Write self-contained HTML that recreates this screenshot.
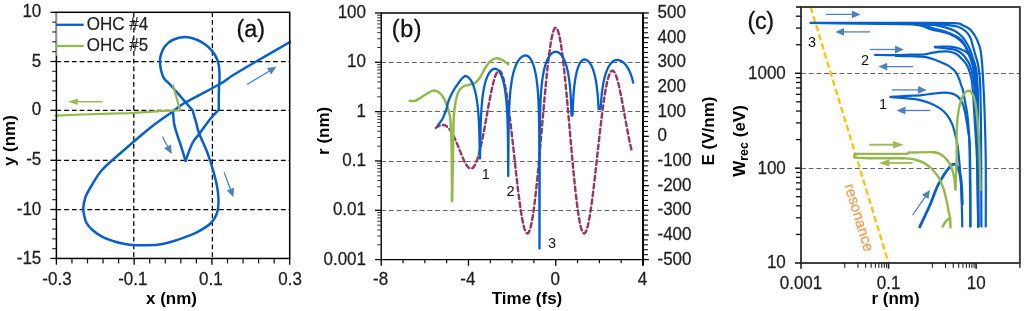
<!DOCTYPE html>
<html><head><meta charset="utf-8"><title>figure</title>
<style>html,body{margin:0;padding:0;background:#fff}svg{display:block}</style></head>
<body>
<svg width="1024" height="311" viewBox="0 0 1024 311">
<rect width="1024" height="311" fill="#fff"/>
<line x1="56.40" y1="61.50" x2="289.70" y2="61.50" stroke="#000" stroke-width="1.25" stroke-dasharray="4.8 2.94"/>
<line x1="56.40" y1="110.30" x2="289.70" y2="110.30" stroke="#000" stroke-width="1.25" stroke-dasharray="4.8 2.94"/>
<line x1="56.40" y1="160.30" x2="289.70" y2="160.30" stroke="#000" stroke-width="1.25" stroke-dasharray="4.8 2.94"/>
<line x1="56.40" y1="209.50" x2="289.70" y2="209.50" stroke="#000" stroke-width="1.25" stroke-dasharray="4.8 2.94"/>
<line x1="133.80" y1="12.30" x2="133.80" y2="258.45" stroke="#000" stroke-width="1.25" stroke-dasharray="4.8 2.94"/>
<line x1="212.40" y1="12.30" x2="212.40" y2="258.45" stroke="#000" stroke-width="1.25" stroke-dasharray="4.8 2.94"/>
<path d="M173.10 113.00 C173.25 114.67 173.52 120.00 174.00 123.00 C174.48 126.00 175.00 127.67 176.00 131.00 C177.00 134.33 178.40 138.03 180.00 143.00 C181.60 147.97 184.67 157.83 185.60 160.80" fill="none" stroke="#0560CE" stroke-width="2.5" stroke-linejoin="round" stroke-linecap="round" />
<path d="M185.60 160.80 C186.75 157.83 190.10 147.63 192.50 143.00 C194.90 138.37 197.08 136.96 200.00 133.00 C202.92 129.04 206.88 123.15 210.00 119.25 C213.12 115.35 217.29 111.21 218.75 109.60 C218.78 106.42 218.78 95.81 218.90 90.50 C219.03 85.19 219.53 82.00 219.50 77.75 C219.47 73.50 219.50 68.79 218.75 65.00 C218.00 61.21 216.88 58.12 215.00 55.00 C213.12 51.88 210.42 48.75 207.50 46.25 C204.58 43.75 201.25 41.54 197.50 40.00 C193.75 38.46 189.17 37.00 185.00 37.00 C180.83 37.00 175.83 38.46 172.50 40.00 C169.17 41.54 166.88 43.96 165.00 46.25 C163.12 48.54 162.08 51.33 161.25 53.75 C160.42 56.17 160.04 58.04 160.00 60.75 C159.96 63.46 160.38 67.12 161.00 70.00 C161.62 72.88 162.25 75.58 163.75 78.00 C165.25 80.42 167.12 81.33 170.00 84.50 C172.88 87.67 177.25 92.71 181.00 97.00 C184.75 101.29 190.58 108.04 192.50 110.25 C193.12 112.38 195.17 119.21 196.25 123.00 C197.33 126.79 197.12 128.00 199.00 133.00 C200.88 138.00 205.17 146.83 207.50 153.00 C209.83 159.17 211.42 164.50 213.00 170.00 C214.58 175.50 216.08 181.00 217.00 186.00 C217.92 191.00 218.50 195.50 218.50 200.00 C218.50 204.50 218.25 209.17 217.00 213.00 C215.75 216.83 214.23 219.85 211.00 223.00 C207.77 226.15 202.35 229.38 197.60 231.90 C192.85 234.42 187.31 236.33 182.50 238.10 C177.69 239.87 172.92 241.38 168.75 242.50 C164.58 243.62 161.46 244.35 157.50 244.80 C153.54 245.25 149.17 245.18 145.00 245.20 C140.83 245.22 136.04 245.13 132.50 244.90 C128.96 244.67 126.88 244.41 123.75 243.80 C120.62 243.19 117.29 242.40 113.75 241.25 C110.21 240.10 106.04 238.78 102.50 236.90 C98.96 235.03 95.21 232.40 92.50 230.00 C89.79 227.60 87.65 225.00 86.25 222.50 C84.85 220.00 84.59 217.42 84.10 215.00 C83.61 212.58 83.07 211.00 83.30 208.00 C83.53 205.00 83.97 201.00 85.50 197.00 C87.03 193.00 89.75 188.50 92.50 184.00 C95.25 179.50 97.83 174.71 102.00 170.00 C106.17 165.29 109.50 162.75 117.50 155.75 C125.50 148.75 140.83 135.33 150.00 128.00 C159.17 120.67 166.67 115.96 172.50 111.75 C178.33 107.54 177.08 107.38 185.00 102.75 C192.92 98.12 212.08 88.54 220.00 84.00 C227.92 79.46 226.62 79.17 232.50 75.50 C238.38 71.83 245.67 67.58 255.25 62.00 C264.83 56.42 284.21 45.33 290.00 42.00" fill="none" stroke="#0560CE" stroke-width="2.5" stroke-linejoin="round" stroke-linecap="round" />
<path d="M55.50 115.60 L82.50 114.50 L110.00 113.60 L130.00 113.20 L163.75 110.90 L180.20 110.30 L173.1 85.7" fill="none" stroke="#93B94D" stroke-width="2.2" stroke-linejoin="round" stroke-linecap="round" />
<line x1="102.50" y1="101.75" x2="76.80" y2="101.75" stroke="#9BBB59" stroke-width="1.5" />
<polygon points="68.00,101.75 77.80,98.45 77.80,105.05" fill="#9BBB59"/>
<line x1="247.00" y1="84.50" x2="269.90" y2="70.76" stroke="#4F81BD" stroke-width="1.3" />
<polygon points="276.50,66.80 271.05,74.62 267.03,67.93" fill="#4F81BD"/>
<line x1="162.50" y1="136.75" x2="168.08" y2="147.21" stroke="#4F81BD" stroke-width="1.3" />
<polygon points="171.70,154.00 164.16,148.16 171.05,144.49" fill="#4F81BD"/>
<line x1="224.10" y1="172.10" x2="230.73" y2="190.08" stroke="#4F81BD" stroke-width="1.3" />
<polygon points="233.40,197.30 226.73,190.49 234.05,187.79" fill="#4F81BD"/>
<rect x="56.40" y="12.30" width="233.30" height="246.15" fill="none" stroke="#000" stroke-width="1.5"/>
<line x1="50.40" y1="258.45" x2="56.40" y2="258.45" stroke="#000" stroke-width="1.3" />
<line x1="52.20" y1="248.66" x2="56.40" y2="248.66" stroke="#222" stroke-width="1.1" />
<line x1="52.20" y1="238.87" x2="56.40" y2="238.87" stroke="#222" stroke-width="1.1" />
<line x1="52.20" y1="229.08" x2="56.40" y2="229.08" stroke="#222" stroke-width="1.1" />
<line x1="52.20" y1="219.29" x2="56.40" y2="219.29" stroke="#222" stroke-width="1.1" />
<line x1="50.40" y1="209.50" x2="56.40" y2="209.50" stroke="#000" stroke-width="1.3" />
<line x1="52.20" y1="199.66" x2="56.40" y2="199.66" stroke="#222" stroke-width="1.1" />
<line x1="52.20" y1="189.82" x2="56.40" y2="189.82" stroke="#222" stroke-width="1.1" />
<line x1="52.20" y1="179.98" x2="56.40" y2="179.98" stroke="#222" stroke-width="1.1" />
<line x1="52.20" y1="170.14" x2="56.40" y2="170.14" stroke="#222" stroke-width="1.1" />
<line x1="50.40" y1="160.30" x2="56.40" y2="160.30" stroke="#000" stroke-width="1.3" />
<line x1="52.20" y1="150.30" x2="56.40" y2="150.30" stroke="#222" stroke-width="1.1" />
<line x1="52.20" y1="140.30" x2="56.40" y2="140.30" stroke="#222" stroke-width="1.1" />
<line x1="52.20" y1="130.30" x2="56.40" y2="130.30" stroke="#222" stroke-width="1.1" />
<line x1="52.20" y1="120.30" x2="56.40" y2="120.30" stroke="#222" stroke-width="1.1" />
<line x1="50.40" y1="110.30" x2="56.40" y2="110.30" stroke="#000" stroke-width="1.3" />
<line x1="52.20" y1="100.54" x2="56.40" y2="100.54" stroke="#222" stroke-width="1.1" />
<line x1="52.20" y1="90.78" x2="56.40" y2="90.78" stroke="#222" stroke-width="1.1" />
<line x1="52.20" y1="81.02" x2="56.40" y2="81.02" stroke="#222" stroke-width="1.1" />
<line x1="52.20" y1="71.26" x2="56.40" y2="71.26" stroke="#222" stroke-width="1.1" />
<line x1="50.40" y1="61.50" x2="56.40" y2="61.50" stroke="#000" stroke-width="1.3" />
<line x1="52.20" y1="51.66" x2="56.40" y2="51.66" stroke="#222" stroke-width="1.1" />
<line x1="52.20" y1="41.82" x2="56.40" y2="41.82" stroke="#222" stroke-width="1.1" />
<line x1="52.20" y1="31.98" x2="56.40" y2="31.98" stroke="#222" stroke-width="1.1" />
<line x1="52.20" y1="22.14" x2="56.40" y2="22.14" stroke="#222" stroke-width="1.1" />
<line x1="50.40" y1="12.30" x2="56.40" y2="12.30" stroke="#000" stroke-width="1.3" />
<line x1="56.40" y1="258.45" x2="56.40" y2="264.65" stroke="#000" stroke-width="1.3" />
<line x1="71.95" y1="258.45" x2="71.95" y2="263.45" stroke="#111" stroke-width="1.2" />
<line x1="87.51" y1="258.45" x2="87.51" y2="263.45" stroke="#111" stroke-width="1.2" />
<line x1="103.06" y1="258.45" x2="103.06" y2="263.45" stroke="#111" stroke-width="1.2" />
<line x1="118.61" y1="258.45" x2="118.61" y2="263.45" stroke="#111" stroke-width="1.2" />
<line x1="134.17" y1="258.45" x2="134.17" y2="264.65" stroke="#000" stroke-width="1.3" />
<line x1="149.72" y1="258.45" x2="149.72" y2="263.45" stroke="#111" stroke-width="1.2" />
<line x1="165.27" y1="258.45" x2="165.27" y2="263.45" stroke="#111" stroke-width="1.2" />
<line x1="180.83" y1="258.45" x2="180.83" y2="263.45" stroke="#111" stroke-width="1.2" />
<line x1="196.38" y1="258.45" x2="196.38" y2="263.45" stroke="#111" stroke-width="1.2" />
<line x1="211.93" y1="258.45" x2="211.93" y2="264.65" stroke="#000" stroke-width="1.3" />
<line x1="227.49" y1="258.45" x2="227.49" y2="263.45" stroke="#111" stroke-width="1.2" />
<line x1="243.04" y1="258.45" x2="243.04" y2="263.45" stroke="#111" stroke-width="1.2" />
<line x1="258.59" y1="258.45" x2="258.59" y2="263.45" stroke="#111" stroke-width="1.2" />
<line x1="274.15" y1="258.45" x2="274.15" y2="263.45" stroke="#111" stroke-width="1.2" />
<line x1="289.70" y1="258.45" x2="289.70" y2="264.65" stroke="#000" stroke-width="1.3" />
<text transform="translate(41.30,17.45) scale(1,1.105)" font-size="17" text-anchor="end" fill="#1f1f1f" stroke="#1f1f1f" stroke-width="0.25" font-family="Liberation Sans, Arial, sans-serif" >10</text>
<text transform="translate(41.30,66.65) scale(1,1.105)" font-size="17" text-anchor="end" fill="#1f1f1f" stroke="#1f1f1f" stroke-width="0.25" font-family="Liberation Sans, Arial, sans-serif" >5</text>
<text transform="translate(41.30,115.45) scale(1,1.105)" font-size="17" text-anchor="end" fill="#1f1f1f" stroke="#1f1f1f" stroke-width="0.25" font-family="Liberation Sans, Arial, sans-serif" >0</text>
<text transform="translate(41.30,165.45) scale(1,1.105)" font-size="17" text-anchor="end" fill="#1f1f1f" stroke="#1f1f1f" stroke-width="0.25" font-family="Liberation Sans, Arial, sans-serif" >-5</text>
<text transform="translate(41.30,214.65) scale(1,1.105)" font-size="17" text-anchor="end" fill="#1f1f1f" stroke="#1f1f1f" stroke-width="0.25" font-family="Liberation Sans, Arial, sans-serif" >-10</text>
<text transform="translate(41.30,263.60) scale(1,1.105)" font-size="17" text-anchor="end" fill="#1f1f1f" stroke="#1f1f1f" stroke-width="0.25" font-family="Liberation Sans, Arial, sans-serif" >-15</text>
<text transform="translate(57.00,284.75) scale(1,1.105)" font-size="17" text-anchor="middle" fill="#1f1f1f" stroke="#1f1f1f" stroke-width="0.25" font-family="Liberation Sans, Arial, sans-serif" >-0.3</text>
<text transform="translate(132.80,284.75) scale(1,1.105)" font-size="17" text-anchor="middle" fill="#1f1f1f" stroke="#1f1f1f" stroke-width="0.25" font-family="Liberation Sans, Arial, sans-serif" >-0.1</text>
<text transform="translate(210.80,284.75) scale(1,1.105)" font-size="17" text-anchor="middle" fill="#1f1f1f" stroke="#1f1f1f" stroke-width="0.25" font-family="Liberation Sans, Arial, sans-serif" >0.1</text>
<text transform="translate(290.10,284.75) scale(1,1.105)" font-size="17" text-anchor="middle" fill="#1f1f1f" stroke="#1f1f1f" stroke-width="0.25" font-family="Liberation Sans, Arial, sans-serif" >0.3</text>
<text x="171.50" y="303.80" font-size="17" text-anchor="middle" font-weight="bold" fill="#000" font-family="Liberation Sans, Arial, sans-serif" >x (nm)</text>
<text transform="translate(15.4,140.6) rotate(-90)" font-size="17" text-anchor="middle" font-weight="bold" fill="#000" font-family="Liberation Sans, Arial, sans-serif">y (nm)</text>
<line x1="56.80" y1="13.20" x2="56.80" y2="55.80" stroke="#fff" stroke-width="0.8" />
<line x1="56.00" y1="24.80" x2="83.70" y2="24.80" stroke="#0560CE" stroke-width="2.3" />
<line x1="56.00" y1="46.00" x2="83.70" y2="46.00" stroke="#93B94D" stroke-width="2.3" />
<text transform="translate(86.8,30.3) scale(1,1.12)" font-size="17" fill="#1f1f1f" stroke="#1f1f1f" stroke-width="0.2" font-family="Liberation Sans, Arial, sans-serif">OHC #4</text>
<text transform="translate(86.8,50.9) scale(1,1.12)" font-size="17" fill="#1f1f1f" stroke="#1f1f1f" stroke-width="0.2" font-family="Liberation Sans, Arial, sans-serif">OHC #5</text>
<text x="236.60" y="37.20" font-size="23.3" text-anchor="start" font-weight="normal" fill="#111" font-family="Liberation Sans, Arial, sans-serif" letter-spacing="0" stroke="#111" stroke-width="0.3">(a)</text>
<line x1="381.20" y1="62.40" x2="643.00" y2="62.40" stroke="#636363" stroke-width="1.05" stroke-dasharray="4.8 2.9"/>
<line x1="381.20" y1="111.45" x2="643.00" y2="111.45" stroke="#636363" stroke-width="1.05" stroke-dasharray="4.8 2.9"/>
<line x1="381.20" y1="161.40" x2="643.00" y2="161.40" stroke="#636363" stroke-width="1.05" stroke-dasharray="4.8 2.9"/>
<line x1="381.20" y1="210.40" x2="643.00" y2="210.40" stroke="#636363" stroke-width="1.05" stroke-dasharray="4.8 2.9"/>
<path d="M435.74 127.89 L436.83 127.12 L437.92 126.43 L439.01 125.85 L440.10 125.39 L441.20 125.07 L442.29 124.92 L443.38 124.95 L444.47 125.18 L445.56 125.62 L446.65 126.28 L447.74 127.17 L448.83 128.29 L449.92 129.66 L451.01 131.25 L452.10 133.07 L453.19 135.10 L454.29 137.32 L455.38 139.71 L456.47 142.25 L457.56 144.89 L458.65 147.60 L459.74 150.34 L460.83 153.07 L461.92 155.74 L463.01 158.29 L464.10 160.68 L465.19 162.86 L466.28 164.76 L467.38 166.34 L468.47 167.55 L469.56 168.35 L470.65 168.69 L471.74 168.54 L472.83 167.87 L473.92 166.66 L475.01 164.88 L476.10 162.55 L477.19 159.65 L478.28 156.21 L479.37 152.26 L480.47 147.81 L481.56 142.93 L482.65 137.67 L483.74 132.09 L484.83 126.26 L485.92 120.27 L487.01 114.20 L488.10 108.16 L489.19 102.24 L490.28 96.54 L491.37 91.16 L492.46 86.21 L493.56 81.78 L494.65 77.97 L495.74 74.87 L496.83 72.56 L497.92 71.11 L499.01 70.58 L500.10 71.01 L501.19 72.44 L502.28 74.88 L503.37 78.33 L504.46 82.77 L505.55 88.17 L506.65 94.49 L507.74 101.64 L508.83 109.56 L509.92 118.13 L511.01 127.25 L512.10 136.78 L513.19 146.61 L514.28 156.57 L515.37 166.52 L516.46 176.30 L517.55 185.76 L518.64 194.75 L519.74 203.11 L520.83 210.70 L521.92 217.39 L523.01 223.05 L524.10 227.57 L525.19 230.86 L526.28 232.85 L527.37 233.49 L528.46 232.73 L529.55 230.56 L530.64 227.00 L531.73 222.08 L532.83 215.84 L533.92 208.38 L535.01 199.78 L536.10 190.16 L537.19 179.66 L538.28 168.42 L539.37 156.60 L540.46 144.38 L541.55 131.93 L542.64 119.45 L543.73 107.11 L544.82 95.11 L545.92 83.62 L547.01 72.81 L548.10 62.86 L549.19 53.92 L550.28 46.11 L551.37 39.56 L552.46 34.36 L553.55 30.59 L554.64 28.31 L555.73 27.55 L556.82 28.31 L557.91 30.59 L559.01 34.36 L560.10 39.56 L561.19 46.11 L562.28 53.92 L563.37 62.86 L564.46 72.81 L565.55 83.62 L566.64 95.11 L567.73 107.11 L568.82 119.45 L569.91 131.93 L571.00 144.38 L572.10 156.60 L573.19 168.42 L574.28 179.66 L575.37 190.16 L576.46 199.78 L577.55 208.38 L578.64 215.84 L579.73 222.08 L580.82 227.00 L581.91 230.56 L583.00 232.73 L584.09 233.49 L585.19 232.85 L586.28 230.86 L587.37 227.57 L588.46 223.05 L589.55 217.39 L590.64 210.70 L591.73 203.11 L592.82 194.75 L593.91 185.76 L595.00 176.30 L596.09 166.52 L597.18 156.57 L598.28 146.61 L599.37 136.78 L600.46 127.25 L601.55 118.13 L602.64 109.56 L603.73 101.64 L604.82 94.49 L605.91 88.17 L607.00 82.77 L608.09 78.33 L609.18 74.88 L610.27 72.44 L611.37 71.01 L612.46 70.58 L613.55 71.11 L614.64 72.56 L615.73 74.87 L616.82 77.97 L617.91 81.78 L619.00 86.21 L620.09 91.16 L621.18 96.54 L622.27 102.24 L623.36 108.16 L624.46 114.20 L625.55 120.27 L626.64 126.26 L627.73 132.09 L628.82 137.67 L629.91 142.93 L631.00 147.81 L632.09 152.26" fill="none" stroke="#993366" stroke-width="2.4" stroke-linejoin="round" stroke-linecap="round" stroke-dasharray="4.6 3.3" stroke-linecap="butt"/>
<path d="M409.75 101.00 C410.79 100.92 413.29 101.62 416.00 100.50 C418.71 99.38 423.00 95.92 426.00 94.25 C429.00 92.58 431.50 90.50 434.00 90.50 C436.50 90.50 439.00 92.17 441.00 94.25 C443.00 96.33 444.54 99.46 446.00 103.00 C447.46 106.54 448.92 111.33 449.75 115.50 C450.58 119.67 450.67 121.29 451.00 128.00 C451.33 134.71 451.58 143.58 451.75 155.75 C451.92 167.92 451.96 193.46 452.00 201.00" fill="none" stroke="#93B94D" stroke-width="2.5" stroke-linejoin="round" stroke-linecap="round" />
<path d="M452.00 201.00 C452.17 193.46 452.71 169.62 453.00 155.75 C453.29 141.88 453.33 126.62 453.75 117.75 C454.17 108.88 454.67 106.92 455.50 102.50 C456.33 98.08 457.38 93.96 458.75 91.25 C460.12 88.54 461.88 87.38 463.75 86.25 C465.62 85.12 468.12 85.04 470.00 84.50 C471.88 83.96 473.33 84.17 475.00 83.00 C476.67 81.83 478.12 80.29 480.00 77.50 C481.88 74.71 484.38 69.08 486.25 66.25 C488.12 63.42 489.58 61.83 491.25 60.50 C492.92 59.17 494.38 58.33 496.25 58.25 C498.12 58.17 500.54 59.00 502.50 60.00 C504.46 61.00 507.08 63.54 508.00 64.25" fill="none" stroke="#93B94D" stroke-width="2.5" stroke-linejoin="round" stroke-linecap="round" />
<path d="M437.80 125.30 L438.03 124.99 L438.32 124.62 L438.67 124.19 L439.05 123.71 L439.47 123.18 L439.92 122.61 L440.37 122.01 L440.83 121.38 L441.28 120.74 L441.72 120.08 L442.13 119.41 L442.50 118.75 L442.85 118.07 L443.20 117.35 L443.53 116.60 L443.87 115.82 L444.20 115.03 L444.52 114.22 L444.83 113.41 L445.13 112.59 L445.43 111.77 L445.71 110.96 L445.99 110.17 L446.25 109.40 L446.49 108.65 L446.71 107.90 L446.90 107.17 L447.08 106.44 L447.24 105.72 L447.41 104.99 L447.58 104.26 L447.76 103.53 L447.95 102.79 L448.17 102.04 L448.42 101.28 L448.70 100.50 L449.02 99.70 L449.36 98.87 L449.73 98.02 L450.12 97.16 L450.52 96.28 L450.94 95.41 L451.37 94.55 L451.80 93.69 L452.23 92.85 L452.66 92.03 L453.09 91.25 L453.50 90.50 L453.91 89.78 L454.34 89.07 L454.77 88.38 L455.21 87.70 L455.65 87.05 L456.08 86.41 L456.51 85.79 L456.94 85.19 L457.35 84.61 L457.75 84.05 L458.14 83.51 L458.50 83.00 L458.85 82.51 L459.18 82.05 L459.49 81.61 L459.80 81.20 L460.09 80.80 L460.38 80.42 L460.65 80.07 L460.93 79.73 L461.20 79.40 L461.46 79.09 L461.73 78.79 L462.00 78.50 L462.28 78.22 L462.56 77.96 L462.86 77.72 L463.15 77.49 L463.44 77.27 L463.72 77.07 L463.99 76.88 L464.24 76.71 L464.47 76.56 L464.68 76.42 L464.86 76.30 L465.00 76.20 L465.00 76.00 L465.12 76.00 L465.25 76.01 L465.38 76.02 L465.50 76.03 L465.62 76.05 L465.75 76.07 L465.88 76.09 L466.00 76.12 L466.12 76.15 L466.25 76.18 L466.38 76.22 L466.50 76.27 L466.62 76.31 L466.75 76.36 L466.88 76.42 L467.00 76.47 L467.12 76.53 L467.25 76.60 L467.38 76.67 L467.50 76.74 L467.62 76.82 L467.75 76.90 L467.88 76.99 L468.00 77.07 L468.12 77.17 L468.25 77.27 L468.38 77.37 L468.50 77.47 L468.62 77.58 L468.75 77.70 L468.88 77.81 L469.00 77.94 L469.12 78.06 L469.25 78.20 L469.38 78.33 L469.50 78.47 L469.62 78.62 L469.75 78.77 L469.88 78.92 L470.00 79.08 L470.12 79.25 L470.25 79.41 L470.38 79.59 L470.50 79.77 L470.62 79.95 L470.75 80.14 L470.88 80.34 L471.00 80.54 L471.12 80.75 L471.25 80.96 L471.38 81.18 L471.50 81.40 L471.62 81.63 L471.75 81.87 L471.88 82.11 L472.00 82.36 L472.12 82.61 L472.25 82.88 L472.38 83.15 L472.50 83.42 L472.62 83.71 L472.75 84.00 L472.88 84.30 L473.00 84.61 L473.12 84.92 L473.25 85.25 L473.38 85.58 L473.50 85.92 L473.62 86.27 L473.75 86.63 L473.88 87.00 L474.00 87.38 L474.12 87.77 L474.25 88.18 L474.38 88.59 L474.50 89.02 L474.62 89.45 L474.75 89.90 L474.88 90.37 L475.00 90.85 L475.12 91.34 L475.25 91.85 L475.38 92.37 L475.50 92.91 L475.62 93.47 L475.75 94.05 L475.88 94.65 L476.00 95.27 L476.12 95.91 L476.25 96.57 L476.38 97.26 L476.50 97.98 L476.62 98.73 L476.75 99.50 L476.88 100.31 L477.00 101.15 L477.12 102.04 L477.25 102.96 L477.38 103.93 L477.50 104.95 L477.62 106.03 L477.75 107.16 L477.88 108.36 L478.00 109.64 L478.12 111.01 L478.25 112.47 L478.38 114.04 L478.50 115.74 L478.62 117.59 L478.75 119.61 L478.88 121.86 L479.00 124.37 L479.12 127.22 L479.25 130.52 L479.38 134.41 L479.50 139.19 L479.62 145.35 L479.75 154.03 L479.88 158.50 L480.00 158.50 L480.00 158.50 L480.24 148.07 L480.47 133.23 L480.71 124.55 L480.94 118.40 L481.18 113.64 L481.41 109.76 L481.65 106.49 L481.88 103.66 L482.12 101.18 L482.35 98.96 L482.59 96.96 L482.82 95.15 L483.06 93.49 L483.30 91.96 L483.53 90.55 L483.77 89.23 L484.00 88.01 L484.24 86.86 L484.47 85.78 L484.71 84.77 L484.94 83.82 L485.18 82.92 L485.41 82.06 L485.65 81.26 L485.89 80.49 L486.12 79.76 L486.36 79.07 L486.59 78.42 L486.83 77.79 L487.06 77.20 L487.30 76.64 L487.53 76.10 L487.77 75.59 L488.00 75.10 L488.24 74.64 L488.48 74.20 L488.71 73.78 L488.95 73.38 L489.18 73.00 L489.42 72.64 L489.65 72.30 L489.89 71.98 L490.12 71.67 L490.36 71.39 L490.59 71.12 L490.83 70.86 L491.06 70.62 L491.30 70.40 L491.54 70.19 L491.77 70.00 L492.01 69.82 L492.24 69.66 L492.48 69.51 L492.71 69.37 L492.95 69.25 L493.18 69.14 L493.42 69.05 L493.65 68.96 L493.89 68.90 L494.12 68.84 L494.36 68.80 L494.60 68.77 L494.83 68.75 L495.07 68.75 L495.30 68.76 L495.54 68.79 L495.77 68.84 L496.01 68.90 L496.24 68.98 L496.48 69.08 L496.71 69.20 L496.95 69.33 L497.19 69.48 L497.42 69.64 L497.66 69.83 L497.89 70.03 L498.13 70.26 L498.36 70.50 L498.60 70.76 L498.83 71.04 L499.07 71.34 L499.30 71.67 L499.54 72.01 L499.77 72.38 L500.01 72.77 L500.25 73.19 L500.48 73.63 L500.72 74.10 L500.95 74.59 L501.19 75.12 L501.42 75.67 L501.66 76.26 L501.89 76.88 L502.13 77.53 L502.36 78.23 L502.60 78.96 L502.84 79.74 L503.07 80.56 L503.31 81.43 L503.54 82.36 L503.78 83.35 L504.01 84.40 L504.25 85.53 L504.48 86.74 L504.72 88.03 L504.95 89.43 L505.19 90.94 L505.43 92.58 L505.66 94.38 L505.90 96.36 L506.13 98.57 L506.37 101.04 L506.60 103.86 L506.84 107.13 L507.07 111.00 L507.31 115.76 L507.54 121.90 L507.78 130.57 L508.01 145.41 L508.25 176.00 L508.25 176.00 L508.51 135.96 L508.77 121.11 L509.03 112.44 L509.29 106.29 L509.55 101.53 L509.81 97.65 L510.07 94.37 L510.33 91.54 L510.59 89.05 L510.85 86.83 L511.11 84.83 L511.38 83.01 L511.64 81.34 L511.90 79.81 L512.16 78.39 L512.42 77.07 L512.68 75.83 L512.94 74.68 L513.20 73.59 L513.46 72.57 L513.72 71.61 L513.98 70.70 L514.24 69.83 L514.50 69.02 L514.76 68.24 L515.02 67.50 L515.28 66.80 L515.54 66.13 L515.80 65.49 L516.06 64.89 L516.32 64.31 L516.58 63.76 L516.84 63.23 L517.10 62.72 L517.36 62.24 L517.62 61.79 L517.89 61.35 L518.15 60.93 L518.41 60.54 L518.67 60.16 L518.93 59.80 L519.19 59.45 L519.45 59.13 L519.71 58.82 L519.97 58.52 L520.23 58.25 L520.49 57.98 L520.75 57.73 L521.01 57.50 L521.27 57.28 L521.53 57.07 L521.79 56.88 L522.05 56.70 L522.31 56.54 L522.57 56.38 L522.83 56.24 L523.09 56.11 L523.35 56.00 L523.61 55.90 L523.88 55.80 L524.14 55.73 L524.40 55.66 L524.66 55.60 L524.92 55.56 L525.18 55.53 L525.44 55.51 L525.70 55.50 L525.96 55.51 L526.22 55.53 L526.48 55.57 L526.74 55.64 L527.00 55.72 L527.26 55.82 L527.52 55.94 L527.78 56.08 L528.04 56.24 L528.30 56.42 L528.56 56.63 L528.82 56.85 L529.08 57.09 L529.34 57.36 L529.60 57.65 L529.86 57.96 L530.12 58.29 L530.39 58.66 L530.65 59.04 L530.91 59.45 L531.17 59.89 L531.43 60.36 L531.69 60.86 L531.95 61.39 L532.21 61.95 L532.47 62.55 L532.73 63.18 L532.99 63.85 L533.25 64.57 L533.51 65.33 L533.77 66.13 L534.03 66.99 L534.29 67.90 L534.55 68.87 L534.81 69.91 L535.07 71.02 L535.33 72.22 L535.59 73.50 L535.85 74.88 L536.11 76.38 L536.38 78.02 L536.64 79.81 L536.90 81.78 L537.16 83.98 L537.42 86.45 L537.68 89.26 L537.94 92.52 L538.20 96.39 L538.46 101.14 L538.72 107.28 L538.98 115.95 L539.24 130.79 L539.50 248.50 L539.50 248.50 L539.77 129.78 L540.04 114.94 L540.31 106.27 L540.58 100.12 L540.85 95.36 L541.12 91.49 L541.40 88.22 L541.67 85.39 L541.94 82.91 L542.21 80.70 L542.48 78.71 L542.75 76.90 L543.02 75.25 L543.29 73.73 L543.56 72.32 L543.83 71.02 L544.10 69.80 L544.38 68.66 L544.65 67.60 L544.92 66.60 L545.19 65.65 L545.46 64.77 L545.73 63.93 L546.00 63.13 L546.27 62.38 L546.54 61.67 L546.81 61.00 L547.08 60.36 L547.35 59.75 L547.62 59.17 L547.90 58.63 L548.17 58.11 L548.44 57.62 L548.71 57.15 L548.98 56.71 L549.25 56.29 L549.52 55.89 L549.79 55.52 L550.06 55.16 L550.33 54.83 L550.60 54.52 L550.88 54.22 L551.15 53.95 L551.42 53.69 L551.69 53.45 L551.96 53.22 L552.23 53.02 L552.50 52.82 L552.77 52.65 L553.04 52.49 L553.31 52.35 L553.58 52.22 L553.85 52.11 L554.12 52.02 L554.40 51.93 L554.67 51.87 L554.94 51.82 L555.21 51.78 L555.48 51.76 L555.75 51.75 L556.02 51.76 L556.29 51.78 L556.56 51.82 L556.83 51.87 L557.10 51.93 L557.38 52.02 L557.65 52.11 L557.92 52.22 L558.19 52.35 L558.46 52.49 L558.73 52.65 L559.00 52.82 L559.27 53.02 L559.54 53.22 L559.81 53.45 L560.08 53.69 L560.35 53.95 L560.62 54.22 L560.90 54.52 L561.17 54.83 L561.44 55.16 L561.71 55.52 L561.98 55.89 L562.25 56.29 L562.52 56.71 L562.79 57.15 L563.06 57.62 L563.33 58.11 L563.60 58.63 L563.88 59.17 L564.15 59.75 L564.42 60.36 L564.69 61.00 L564.96 61.67 L565.23 62.38 L565.50 63.13 L565.77 63.93 L566.04 64.77 L566.31 65.65 L566.58 66.60 L566.85 67.60 L567.12 68.66 L567.40 69.80 L567.67 71.02 L567.94 72.32 L568.21 73.73 L568.48 75.25 L568.75 76.90 L569.02 78.71 L569.29 80.70 L569.56 82.91 L569.83 85.39 L570.10 88.22 L570.38 91.49 L570.65 95.36 L570.92 100.12 L571.19 106.27 L571.46 114.94 L571.73 115.50 L572.00 115.50 L572.00 115.50 L572.23 115.50 L572.46 115.50 L572.69 111.98 L572.92 105.84 L573.15 101.09 L573.38 97.21 L573.60 93.95 L573.83 91.13 L574.06 88.66 L574.29 86.46 L574.52 84.48 L574.75 82.69 L574.98 81.05 L575.21 79.54 L575.44 78.15 L575.67 76.86 L575.90 75.66 L576.12 74.54 L576.35 73.50 L576.58 72.52 L576.81 71.59 L577.04 70.73 L577.27 69.91 L577.50 69.15 L577.73 68.42 L577.96 67.74 L578.19 67.09 L578.42 66.48 L578.65 65.91 L578.88 65.37 L579.10 64.86 L579.33 64.37 L579.56 63.92 L579.79 63.49 L580.02 63.09 L580.25 62.71 L580.48 62.36 L580.71 62.03 L580.94 61.72 L581.17 61.44 L581.40 61.17 L581.62 60.93 L581.85 60.71 L582.08 60.50 L582.31 60.32 L582.54 60.16 L582.77 60.01 L583.00 59.88 L583.23 59.77 L583.46 59.68 L583.69 59.61 L583.92 59.56 L584.15 59.52 L584.38 59.50 L584.60 59.50 L584.83 59.51 L585.06 59.54 L585.29 59.57 L585.52 59.62 L585.75 59.68 L585.98 59.76 L586.21 59.84 L586.44 59.94 L586.67 60.06 L586.90 60.18 L587.12 60.32 L587.35 60.47 L587.58 60.64 L587.81 60.82 L588.04 61.01 L588.27 61.22 L588.50 61.44 L588.73 61.67 L588.96 61.92 L589.19 62.19 L589.42 62.47 L589.65 62.77 L589.88 63.09 L590.10 63.42 L590.33 63.77 L590.56 64.14 L590.79 64.53 L591.02 64.94 L591.25 65.37 L591.48 65.82 L591.71 66.29 L591.94 66.78 L592.17 67.30 L592.40 67.85 L592.62 68.42 L592.85 69.02 L593.08 69.65 L593.31 70.32 L593.54 71.01 L593.77 71.74 L594.00 72.52 L594.23 73.33 L594.46 74.19 L594.69 75.09 L594.92 76.05 L595.15 77.07 L595.38 78.15 L595.60 79.30 L595.83 80.53 L596.06 81.85 L596.29 83.27 L596.52 84.80 L596.75 86.46 L596.98 88.28 L597.21 90.28 L597.44 92.49 L597.67 94.98 L597.90 97.81 L598.12 101.09 L598.35 104.97 L598.58 109.00 L598.81 109.00 L599.04 109.00 L599.27 109.00 L599.50 109.00 L599.50 109.00 L599.78 109.00 L600.06 109.00 L600.34 109.00 L600.62 109.00 L600.91 104.39 L601.19 100.51 L601.47 97.24 L601.75 94.41 L602.03 91.93 L602.31 89.71 L602.59 87.72 L602.88 85.91 L603.16 84.25 L603.44 82.73 L603.72 81.31 L604.00 80.00 L604.28 78.78 L604.56 77.64 L604.84 76.56 L605.12 75.56 L605.41 74.61 L605.69 73.71 L605.97 72.86 L606.25 72.06 L606.53 71.30 L606.81 70.58 L607.09 69.89 L607.38 69.25 L607.66 68.63 L607.94 68.04 L608.22 67.48 L608.50 66.95 L608.78 66.45 L609.06 65.97 L609.34 65.51 L609.62 65.08 L609.91 64.67 L610.19 64.28 L610.47 63.91 L610.75 63.56 L611.03 63.23 L611.31 62.92 L611.59 62.63 L611.88 62.35 L612.16 62.09 L612.44 61.85 L612.72 61.62 L613.00 61.41 L613.28 61.22 L613.56 61.04 L613.84 60.87 L614.12 60.72 L614.41 60.59 L614.69 60.46 L614.97 60.36 L615.25 60.27 L615.53 60.19 L615.81 60.12 L616.09 60.07 L616.38 60.03 L616.66 60.01 L616.94 60.00 L617.22 60.00 L617.50 60.01 L617.78 60.04 L618.06 60.07 L618.34 60.11 L618.62 60.16 L618.91 60.22 L619.19 60.29 L619.47 60.37 L619.75 60.46 L620.03 60.56 L620.31 60.66 L620.59 60.78 L620.88 60.91 L621.16 61.05 L621.44 61.20 L621.72 61.36 L622.00 61.53 L622.28 61.72 L622.56 61.91 L622.84 62.11 L623.12 62.33 L623.41 62.56 L623.69 62.80 L623.97 63.05 L624.25 63.32 L624.53 63.60 L624.81 63.89 L625.09 64.19 L625.38 64.51 L625.66 64.84 L625.94 65.19 L626.22 65.56 L626.50 65.94 L626.78 66.33 L627.06 66.74 L627.34 67.18 L627.62 67.63 L627.91 68.09 L628.19 68.58 L628.47 69.09 L628.75 69.63 L629.03 70.18 L629.31 70.76 L629.59 71.37 L629.88 72.00 L630.16 72.66 L630.44 73.36 L630.72 74.08 L631.00 74.85 L631.28 75.65 L631.56 76.49 L631.84 77.37 L632.12 78.31 L632.41 79.29 L632.69 80.33 L632.97 81.44 L633.25 82.62" fill="none" stroke="#0560CE" stroke-width="2.3" stroke-linejoin="round" stroke-linecap="round" />
<path d="M381.20 13.00 H643.00 V259.60 H381.20 Z" fill="none" stroke="#000" stroke-width="1.4"/>
<line x1="643.00" y1="13.00" x2="643.00" y2="265.60" stroke="#000" stroke-width="1.7" />
<line x1="375.00" y1="259.60" x2="381.20" y2="259.60" stroke="#000" stroke-width="1.3" />
<line x1="377.20" y1="244.75" x2="381.20" y2="244.75" stroke="#222" stroke-width="0.9" />
<line x1="377.20" y1="236.07" x2="381.20" y2="236.07" stroke="#222" stroke-width="0.9" />
<line x1="377.20" y1="229.91" x2="381.20" y2="229.91" stroke="#222" stroke-width="0.9" />
<line x1="377.20" y1="225.13" x2="381.20" y2="225.13" stroke="#222" stroke-width="0.9" />
<line x1="377.20" y1="221.22" x2="381.20" y2="221.22" stroke="#222" stroke-width="0.9" />
<line x1="377.20" y1="217.92" x2="381.20" y2="217.92" stroke="#222" stroke-width="0.9" />
<line x1="377.20" y1="215.06" x2="381.20" y2="215.06" stroke="#222" stroke-width="0.9" />
<line x1="377.20" y1="212.54" x2="381.20" y2="212.54" stroke="#222" stroke-width="0.9" />
<line x1="375.00" y1="210.28" x2="381.20" y2="210.28" stroke="#000" stroke-width="1.3" />
<line x1="377.20" y1="195.43" x2="381.20" y2="195.43" stroke="#222" stroke-width="0.9" />
<line x1="377.20" y1="186.75" x2="381.20" y2="186.75" stroke="#222" stroke-width="0.9" />
<line x1="377.20" y1="180.59" x2="381.20" y2="180.59" stroke="#222" stroke-width="0.9" />
<line x1="377.20" y1="175.81" x2="381.20" y2="175.81" stroke="#222" stroke-width="0.9" />
<line x1="377.20" y1="171.90" x2="381.20" y2="171.90" stroke="#222" stroke-width="0.9" />
<line x1="377.20" y1="168.60" x2="381.20" y2="168.60" stroke="#222" stroke-width="0.9" />
<line x1="377.20" y1="165.74" x2="381.20" y2="165.74" stroke="#222" stroke-width="0.9" />
<line x1="377.20" y1="163.22" x2="381.20" y2="163.22" stroke="#222" stroke-width="0.9" />
<line x1="375.00" y1="160.96" x2="381.20" y2="160.96" stroke="#000" stroke-width="1.3" />
<line x1="377.20" y1="146.11" x2="381.20" y2="146.11" stroke="#222" stroke-width="0.9" />
<line x1="377.20" y1="137.43" x2="381.20" y2="137.43" stroke="#222" stroke-width="0.9" />
<line x1="377.20" y1="131.27" x2="381.20" y2="131.27" stroke="#222" stroke-width="0.9" />
<line x1="377.20" y1="126.49" x2="381.20" y2="126.49" stroke="#222" stroke-width="0.9" />
<line x1="377.20" y1="122.58" x2="381.20" y2="122.58" stroke="#222" stroke-width="0.9" />
<line x1="377.20" y1="119.28" x2="381.20" y2="119.28" stroke="#222" stroke-width="0.9" />
<line x1="377.20" y1="116.42" x2="381.20" y2="116.42" stroke="#222" stroke-width="0.9" />
<line x1="377.20" y1="113.90" x2="381.20" y2="113.90" stroke="#222" stroke-width="0.9" />
<line x1="375.00" y1="111.64" x2="381.20" y2="111.64" stroke="#000" stroke-width="1.3" />
<line x1="377.20" y1="96.79" x2="381.20" y2="96.79" stroke="#222" stroke-width="0.9" />
<line x1="377.20" y1="88.11" x2="381.20" y2="88.11" stroke="#222" stroke-width="0.9" />
<line x1="377.20" y1="81.95" x2="381.20" y2="81.95" stroke="#222" stroke-width="0.9" />
<line x1="377.20" y1="77.17" x2="381.20" y2="77.17" stroke="#222" stroke-width="0.9" />
<line x1="377.20" y1="73.26" x2="381.20" y2="73.26" stroke="#222" stroke-width="0.9" />
<line x1="377.20" y1="69.96" x2="381.20" y2="69.96" stroke="#222" stroke-width="0.9" />
<line x1="377.20" y1="67.10" x2="381.20" y2="67.10" stroke="#222" stroke-width="0.9" />
<line x1="377.20" y1="64.58" x2="381.20" y2="64.58" stroke="#222" stroke-width="0.9" />
<line x1="375.00" y1="62.32" x2="381.20" y2="62.32" stroke="#000" stroke-width="1.3" />
<line x1="377.20" y1="47.47" x2="381.20" y2="47.47" stroke="#222" stroke-width="0.9" />
<line x1="377.20" y1="38.79" x2="381.20" y2="38.79" stroke="#222" stroke-width="0.9" />
<line x1="377.20" y1="32.63" x2="381.20" y2="32.63" stroke="#222" stroke-width="0.9" />
<line x1="377.20" y1="27.85" x2="381.20" y2="27.85" stroke="#222" stroke-width="0.9" />
<line x1="377.20" y1="23.94" x2="381.20" y2="23.94" stroke="#222" stroke-width="0.9" />
<line x1="377.20" y1="20.64" x2="381.20" y2="20.64" stroke="#222" stroke-width="0.9" />
<line x1="377.20" y1="17.78" x2="381.20" y2="17.78" stroke="#222" stroke-width="0.9" />
<line x1="377.20" y1="15.26" x2="381.20" y2="15.26" stroke="#222" stroke-width="0.9" />
<line x1="375.00" y1="13.00" x2="381.20" y2="13.00" stroke="#000" stroke-width="1.3" />
<line x1="643.00" y1="259.60" x2="648.80" y2="259.60" stroke="#000" stroke-width="1.3" />
<line x1="643.00" y1="254.67" x2="648.00" y2="254.67" stroke="#111" stroke-width="1.1" />
<line x1="643.00" y1="249.74" x2="648.00" y2="249.74" stroke="#111" stroke-width="1.1" />
<line x1="643.00" y1="244.80" x2="648.00" y2="244.80" stroke="#111" stroke-width="1.1" />
<line x1="643.00" y1="239.87" x2="648.00" y2="239.87" stroke="#111" stroke-width="1.1" />
<line x1="643.00" y1="234.94" x2="648.80" y2="234.94" stroke="#000" stroke-width="1.3" />
<line x1="643.00" y1="230.01" x2="648.00" y2="230.01" stroke="#111" stroke-width="1.1" />
<line x1="643.00" y1="225.08" x2="648.00" y2="225.08" stroke="#111" stroke-width="1.1" />
<line x1="643.00" y1="220.14" x2="648.00" y2="220.14" stroke="#111" stroke-width="1.1" />
<line x1="643.00" y1="215.21" x2="648.00" y2="215.21" stroke="#111" stroke-width="1.1" />
<line x1="643.00" y1="210.28" x2="648.80" y2="210.28" stroke="#000" stroke-width="1.3" />
<line x1="643.00" y1="205.35" x2="648.00" y2="205.35" stroke="#111" stroke-width="1.1" />
<line x1="643.00" y1="200.42" x2="648.00" y2="200.42" stroke="#111" stroke-width="1.1" />
<line x1="643.00" y1="195.48" x2="648.00" y2="195.48" stroke="#111" stroke-width="1.1" />
<line x1="643.00" y1="190.55" x2="648.00" y2="190.55" stroke="#111" stroke-width="1.1" />
<line x1="643.00" y1="185.62" x2="648.80" y2="185.62" stroke="#000" stroke-width="1.3" />
<line x1="643.00" y1="180.69" x2="648.00" y2="180.69" stroke="#111" stroke-width="1.1" />
<line x1="643.00" y1="175.76" x2="648.00" y2="175.76" stroke="#111" stroke-width="1.1" />
<line x1="643.00" y1="170.82" x2="648.00" y2="170.82" stroke="#111" stroke-width="1.1" />
<line x1="643.00" y1="165.89" x2="648.00" y2="165.89" stroke="#111" stroke-width="1.1" />
<line x1="643.00" y1="160.96" x2="648.80" y2="160.96" stroke="#000" stroke-width="1.3" />
<line x1="643.00" y1="156.03" x2="648.00" y2="156.03" stroke="#111" stroke-width="1.1" />
<line x1="643.00" y1="151.10" x2="648.00" y2="151.10" stroke="#111" stroke-width="1.1" />
<line x1="643.00" y1="146.16" x2="648.00" y2="146.16" stroke="#111" stroke-width="1.1" />
<line x1="643.00" y1="141.23" x2="648.00" y2="141.23" stroke="#111" stroke-width="1.1" />
<line x1="643.00" y1="136.30" x2="648.80" y2="136.30" stroke="#000" stroke-width="1.3" />
<line x1="643.00" y1="131.37" x2="648.00" y2="131.37" stroke="#111" stroke-width="1.1" />
<line x1="643.00" y1="126.44" x2="648.00" y2="126.44" stroke="#111" stroke-width="1.1" />
<line x1="643.00" y1="121.50" x2="648.00" y2="121.50" stroke="#111" stroke-width="1.1" />
<line x1="643.00" y1="116.57" x2="648.00" y2="116.57" stroke="#111" stroke-width="1.1" />
<line x1="643.00" y1="111.64" x2="648.80" y2="111.64" stroke="#000" stroke-width="1.3" />
<line x1="643.00" y1="106.71" x2="648.00" y2="106.71" stroke="#111" stroke-width="1.1" />
<line x1="643.00" y1="101.78" x2="648.00" y2="101.78" stroke="#111" stroke-width="1.1" />
<line x1="643.00" y1="96.84" x2="648.00" y2="96.84" stroke="#111" stroke-width="1.1" />
<line x1="643.00" y1="91.91" x2="648.00" y2="91.91" stroke="#111" stroke-width="1.1" />
<line x1="643.00" y1="86.98" x2="648.80" y2="86.98" stroke="#000" stroke-width="1.3" />
<line x1="643.00" y1="82.05" x2="648.00" y2="82.05" stroke="#111" stroke-width="1.1" />
<line x1="643.00" y1="77.12" x2="648.00" y2="77.12" stroke="#111" stroke-width="1.1" />
<line x1="643.00" y1="72.18" x2="648.00" y2="72.18" stroke="#111" stroke-width="1.1" />
<line x1="643.00" y1="67.25" x2="648.00" y2="67.25" stroke="#111" stroke-width="1.1" />
<line x1="643.00" y1="62.32" x2="648.80" y2="62.32" stroke="#000" stroke-width="1.3" />
<line x1="643.00" y1="57.39" x2="648.00" y2="57.39" stroke="#111" stroke-width="1.1" />
<line x1="643.00" y1="52.46" x2="648.00" y2="52.46" stroke="#111" stroke-width="1.1" />
<line x1="643.00" y1="47.52" x2="648.00" y2="47.52" stroke="#111" stroke-width="1.1" />
<line x1="643.00" y1="42.59" x2="648.00" y2="42.59" stroke="#111" stroke-width="1.1" />
<line x1="643.00" y1="37.66" x2="648.80" y2="37.66" stroke="#000" stroke-width="1.3" />
<line x1="643.00" y1="32.73" x2="648.00" y2="32.73" stroke="#111" stroke-width="1.1" />
<line x1="643.00" y1="27.80" x2="648.00" y2="27.80" stroke="#111" stroke-width="1.1" />
<line x1="643.00" y1="22.86" x2="648.00" y2="22.86" stroke="#111" stroke-width="1.1" />
<line x1="643.00" y1="17.93" x2="648.00" y2="17.93" stroke="#111" stroke-width="1.1" />
<line x1="643.00" y1="13.00" x2="648.80" y2="13.00" stroke="#000" stroke-width="1.3" />
<line x1="381.20" y1="259.60" x2="381.20" y2="265.70" stroke="#000" stroke-width="1.3" />
<line x1="403.02" y1="259.60" x2="403.02" y2="263.20" stroke="#111" stroke-width="1.2" />
<line x1="424.83" y1="259.60" x2="424.83" y2="263.20" stroke="#111" stroke-width="1.2" />
<line x1="446.65" y1="259.60" x2="446.65" y2="263.20" stroke="#111" stroke-width="1.2" />
<line x1="468.47" y1="259.60" x2="468.47" y2="265.70" stroke="#000" stroke-width="1.3" />
<line x1="490.28" y1="259.60" x2="490.28" y2="263.20" stroke="#111" stroke-width="1.2" />
<line x1="512.10" y1="259.60" x2="512.10" y2="263.20" stroke="#111" stroke-width="1.2" />
<line x1="533.92" y1="259.60" x2="533.92" y2="263.20" stroke="#111" stroke-width="1.2" />
<line x1="555.73" y1="259.60" x2="555.73" y2="265.70" stroke="#000" stroke-width="1.3" />
<line x1="577.55" y1="259.60" x2="577.55" y2="263.20" stroke="#111" stroke-width="1.2" />
<line x1="599.37" y1="259.60" x2="599.37" y2="263.20" stroke="#111" stroke-width="1.2" />
<line x1="621.18" y1="259.60" x2="621.18" y2="263.20" stroke="#111" stroke-width="1.2" />
<line x1="643.00" y1="259.60" x2="643.00" y2="265.70" stroke="#000" stroke-width="1.3" />
<text transform="translate(366.00,264.75) scale(1,1.105)" font-size="17" text-anchor="end" fill="#1f1f1f" stroke="#1f1f1f" stroke-width="0.25" font-family="Liberation Sans, Arial, sans-serif" >0.001</text>
<text transform="translate(366.00,215.43) scale(1,1.105)" font-size="17" text-anchor="end" fill="#1f1f1f" stroke="#1f1f1f" stroke-width="0.25" font-family="Liberation Sans, Arial, sans-serif" >0.01</text>
<text transform="translate(366.00,166.11) scale(1,1.105)" font-size="17" text-anchor="end" fill="#1f1f1f" stroke="#1f1f1f" stroke-width="0.25" font-family="Liberation Sans, Arial, sans-serif" >0.1</text>
<text transform="translate(366.00,116.79) scale(1,1.105)" font-size="17" text-anchor="end" fill="#1f1f1f" stroke="#1f1f1f" stroke-width="0.25" font-family="Liberation Sans, Arial, sans-serif" >1</text>
<text transform="translate(366.00,67.47) scale(1,1.105)" font-size="17" text-anchor="end" fill="#1f1f1f" stroke="#1f1f1f" stroke-width="0.25" font-family="Liberation Sans, Arial, sans-serif" >10</text>
<text transform="translate(366.00,18.15) scale(1,1.105)" font-size="17" text-anchor="end" fill="#1f1f1f" stroke="#1f1f1f" stroke-width="0.25" font-family="Liberation Sans, Arial, sans-serif" >100</text>
<text transform="translate(657.50,18.15) scale(1,1.105)" font-size="17" text-anchor="start" fill="#1f1f1f" stroke="#1f1f1f" stroke-width="0.25" font-family="Liberation Sans, Arial, sans-serif" >500</text>
<text transform="translate(657.50,42.81) scale(1,1.105)" font-size="17" text-anchor="start" fill="#1f1f1f" stroke="#1f1f1f" stroke-width="0.25" font-family="Liberation Sans, Arial, sans-serif" >400</text>
<text transform="translate(657.50,67.47) scale(1,1.105)" font-size="17" text-anchor="start" fill="#1f1f1f" stroke="#1f1f1f" stroke-width="0.25" font-family="Liberation Sans, Arial, sans-serif" >300</text>
<text transform="translate(657.50,92.13) scale(1,1.105)" font-size="17" text-anchor="start" fill="#1f1f1f" stroke="#1f1f1f" stroke-width="0.25" font-family="Liberation Sans, Arial, sans-serif" >200</text>
<text transform="translate(657.50,116.79) scale(1,1.105)" font-size="17" text-anchor="start" fill="#1f1f1f" stroke="#1f1f1f" stroke-width="0.25" font-family="Liberation Sans, Arial, sans-serif" >100</text>
<text transform="translate(657.50,141.45) scale(1,1.105)" font-size="17" text-anchor="start" fill="#1f1f1f" stroke="#1f1f1f" stroke-width="0.25" font-family="Liberation Sans, Arial, sans-serif" >0</text>
<text transform="translate(657.50,166.11) scale(1,1.105)" font-size="17" text-anchor="start" fill="#1f1f1f" stroke="#1f1f1f" stroke-width="0.25" font-family="Liberation Sans, Arial, sans-serif" >-100</text>
<text transform="translate(657.50,190.77) scale(1,1.105)" font-size="17" text-anchor="start" fill="#1f1f1f" stroke="#1f1f1f" stroke-width="0.25" font-family="Liberation Sans, Arial, sans-serif" >-200</text>
<text transform="translate(657.50,215.43) scale(1,1.105)" font-size="17" text-anchor="start" fill="#1f1f1f" stroke="#1f1f1f" stroke-width="0.25" font-family="Liberation Sans, Arial, sans-serif" >-300</text>
<text transform="translate(657.50,240.09) scale(1,1.105)" font-size="17" text-anchor="start" fill="#1f1f1f" stroke="#1f1f1f" stroke-width="0.25" font-family="Liberation Sans, Arial, sans-serif" >-400</text>
<text transform="translate(657.50,264.75) scale(1,1.105)" font-size="17" text-anchor="start" fill="#1f1f1f" stroke="#1f1f1f" stroke-width="0.25" font-family="Liberation Sans, Arial, sans-serif" >-500</text>
<text transform="translate(380.60,285.15) scale(1,1.105)" font-size="17" text-anchor="middle" fill="#1f1f1f" stroke="#1f1f1f" stroke-width="0.25" font-family="Liberation Sans, Arial, sans-serif" >-8</text>
<text transform="translate(467.87,285.15) scale(1,1.105)" font-size="17" text-anchor="middle" fill="#1f1f1f" stroke="#1f1f1f" stroke-width="0.25" font-family="Liberation Sans, Arial, sans-serif" >-4</text>
<text transform="translate(555.13,285.15) scale(1,1.105)" font-size="17" text-anchor="middle" fill="#1f1f1f" stroke="#1f1f1f" stroke-width="0.25" font-family="Liberation Sans, Arial, sans-serif" >0</text>
<text transform="translate(642.40,285.15) scale(1,1.105)" font-size="17" text-anchor="middle" fill="#1f1f1f" stroke="#1f1f1f" stroke-width="0.25" font-family="Liberation Sans, Arial, sans-serif" >4</text>
<text x="527.00" y="303.80" font-size="17" text-anchor="middle" font-weight="bold" fill="#000" font-family="Liberation Sans, Arial, sans-serif" >Time (fs)</text>
<text transform="translate(329.0,130.8) rotate(-90)" font-size="17" text-anchor="middle" font-weight="bold" fill="#000" font-family="Liberation Sans, Arial, sans-serif">r (nm)</text>
<text transform="translate(714.3,131) rotate(-90)" font-size="17" text-anchor="middle" font-weight="bold" fill="#000" font-family="Liberation Sans, Arial, sans-serif">E (V/nm)</text>
<text x="391.80" y="37.00" font-size="23.3" text-anchor="start" font-weight="normal" fill="#111" font-family="Liberation Sans, Arial, sans-serif" letter-spacing="0.6" stroke="#111" stroke-width="0.3">(b)</text>
<text x="481.80" y="178.50" font-size="14.5" text-anchor="start" font-weight="normal" fill="#111" font-family="Liberation Sans, Arial, sans-serif" >1</text>
<text x="506.60" y="195.60" font-size="14.5" text-anchor="start" font-weight="normal" fill="#111" font-family="Liberation Sans, Arial, sans-serif" >2</text>
<text x="548.00" y="247.50" font-size="14.5" text-anchor="start" font-weight="normal" fill="#111" font-family="Liberation Sans, Arial, sans-serif" >3</text>
<line x1="801.00" y1="168.40" x2="1019.90" y2="168.40" stroke="#636363" stroke-width="1.05" stroke-dasharray="4.8 2.9"/>
<line x1="801.00" y1="73.55" x2="1019.90" y2="73.55" stroke="#636363" stroke-width="1.05" stroke-dasharray="4.8 2.9"/>
<line x1="810.60" y1="7.00" x2="888.60" y2="263.00" stroke="#FFC000" stroke-width="2.25" stroke-dasharray="6.3 3.2"/>
<path d="M810.60 22.80 C818.83 22.80 841.77 22.78 860.00 22.80 C878.23 22.82 904.21 22.83 920.00 22.90 C935.79 22.97 947.71 22.85 954.75 23.20 C961.79 23.55 959.75 24.00 962.25 25.00 C964.75 26.00 967.67 27.45 969.75 29.20 C971.83 30.95 973.38 33.37 974.75 35.50 C976.12 37.63 977.04 39.58 978.00 42.00 C978.96 44.42 979.83 46.58 980.50 50.00 C981.17 53.42 981.58 57.88 982.00 62.50 C982.42 67.12 982.58 69.83 983.00 77.75 C983.42 85.67 984.04 96.29 984.50 110.00 C984.96 123.71 985.54 140.58 985.75 160.00 C985.96 179.42 985.75 215.42 985.75 226.50" fill="none" stroke="#0560CE" stroke-width="2.2" stroke-linejoin="round" stroke-linecap="round" />
<path d="M810.60 23.00 C818.83 23.10 845.10 23.42 860.00 23.60 C874.90 23.78 889.17 23.93 900.00 24.10 C910.83 24.27 920.83 24.52 925.00 24.60" fill="none" stroke="#0560CE" stroke-width="2.2" stroke-linejoin="round" stroke-linecap="round" />
<path d="M925.00 24.20 C928.00 24.27 937.50 24.17 943.00 24.60 C948.50 25.03 954.17 25.65 958.00 26.80 C961.83 27.95 963.92 29.63 966.00 31.50 C968.08 33.37 969.28 35.28 970.50 38.00 C971.72 40.72 972.45 44.87 973.30 47.80 C974.15 50.73 974.83 52.90 975.60 55.60 C976.37 58.30 977.25 60.77 977.90 64.00 C978.55 67.23 979.10 71.00 979.50 75.00 C979.90 79.00 980.05 78.83 980.30 88.00 C980.55 97.17 980.82 106.92 981.00 130.00 C981.18 153.08 981.33 210.42 981.40 226.50" fill="none" stroke="#0560CE" stroke-width="2.2" stroke-linejoin="round" stroke-linecap="round" />
<path d="M920.00 24.40 C922.50 24.53 930.67 24.67 935.00 25.20 C939.33 25.73 942.67 26.63 946.00 27.60 C949.33 28.57 952.33 29.52 955.00 31.00 C957.67 32.48 960.17 34.67 962.00 36.50 C963.83 38.33 964.71 39.92 966.00 42.00 C967.29 44.08 968.67 46.50 969.75 49.00 C970.83 51.50 971.62 54.17 972.50 57.00 C973.38 59.83 974.28 62.50 975.00 66.00 C975.72 69.50 976.37 72.33 976.80 78.00 C977.23 83.67 977.37 86.33 977.60 100.00 C977.83 113.67 978.10 138.92 978.20 160.00 C978.30 181.08 978.20 215.42 978.20 226.50" fill="none" stroke="#0560CE" stroke-width="2.2" stroke-linejoin="round" stroke-linecap="round" />
<path d="M918.00 24.60 C919.33 24.83 923.33 25.33 926.00 26.00 C928.67 26.67 930.92 27.73 934.00 28.60 C937.08 29.47 941.18 30.10 944.50 31.20 C947.82 32.30 951.07 33.73 953.90 35.20 C956.73 36.67 959.32 37.70 961.50 40.00 C963.68 42.30 965.43 46.13 967.00 49.00 C968.57 51.87 969.73 54.70 970.90 57.20 C972.07 59.70 973.15 61.03 974.00 64.00 C974.85 66.97 975.50 70.67 976.00 75.00 C976.50 79.33 976.70 80.83 977.00 90.00 C977.30 99.17 977.60 107.25 977.80 130.00 C978.00 152.75 978.13 210.42 978.20 226.50" fill="none" stroke="#0560CE" stroke-width="2.2" stroke-linejoin="round" stroke-linecap="round" />
<path d="M915.00 24.60 C916.21 24.82 919.79 25.18 922.25 25.90 C924.71 26.62 927.25 28.08 929.75 28.90 C932.25 29.72 934.54 30.15 937.25 30.80 C939.96 31.45 943.50 32.05 946.00 32.80 C948.50 33.55 950.17 34.27 952.25 35.30 C954.33 36.33 956.62 37.59 958.50 39.00 C960.38 40.41 962.15 42.10 963.50 43.75 C964.85 45.40 965.60 46.86 966.60 48.90 C967.60 50.94 968.57 53.48 969.50 56.00 C970.43 58.52 971.37 60.83 972.20 64.00 C973.03 67.17 973.87 70.67 974.50 75.00 C975.13 79.33 975.55 80.83 976.00 90.00 C976.45 99.17 976.83 107.25 977.20 130.00 C977.57 152.75 978.03 210.42 978.20 226.50" fill="none" stroke="#0560CE" stroke-width="2.2" stroke-linejoin="round" stroke-linecap="round" />
<path d="M875.10 54.90 C878.54 54.95 889.81 55.25 895.75 55.20 C901.69 55.15 906.04 54.72 910.75 54.60 C915.46 54.48 920.49 54.78 924.00 54.50 C927.51 54.22 929.20 53.37 931.80 52.90 C934.40 52.43 937.12 51.95 939.60 51.70 C942.08 51.45 944.48 51.27 946.70 51.40 C948.92 51.53 951.08 51.93 952.90 52.50 C954.72 53.07 956.03 53.63 957.60 54.80 C959.17 55.97 961.13 58.30 962.30 59.50 C963.47 60.70 963.69 60.80 964.60 62.00 C965.51 63.20 966.83 64.75 967.75 66.70 C968.67 68.65 969.44 71.48 970.10 73.70 C970.76 75.92 971.32 77.95 971.70 80.00 C972.08 82.05 972.10 82.67 972.40 86.00 C972.70 89.33 973.07 93.50 973.50 100.00 C973.93 106.50 974.42 115.00 975.00 125.00 C975.58 135.00 976.47 143.08 977.00 160.00 C977.53 176.92 978.00 215.42 978.20 226.50" fill="none" stroke="#0560CE" stroke-width="2.2" stroke-linejoin="round" stroke-linecap="round" />
<path d="M934.90 46.80 C936.08 46.77 939.52 46.62 942.00 46.60 C944.48 46.58 947.33 46.50 949.80 46.70 C952.27 46.90 954.60 47.22 956.80 47.80 C959.00 48.38 961.17 49.28 963.00 50.20 C964.83 51.12 966.18 51.75 967.75 53.30 C969.32 54.85 971.23 57.72 972.40 59.50 C973.57 61.28 974.12 61.92 974.80 64.00 C975.48 66.08 976.05 68.33 976.50 72.00 C976.95 75.67 977.25 79.67 977.50 86.00 C977.75 92.33 977.88 86.58 978.00 110.00 C978.12 133.42 978.17 207.08 978.20 226.50" fill="none" stroke="#0560CE" stroke-width="2.2" stroke-linejoin="round" stroke-linecap="round" />
<path d="M934.90 47.40 C936.08 47.47 939.92 47.60 942.00 47.80 C944.08 48.00 945.45 48.33 947.40 48.60 C949.35 48.87 951.73 48.88 953.70 49.40 C955.67 49.92 957.52 50.67 959.20 51.70 C960.88 52.73 962.38 54.03 963.80 55.60 C965.22 57.17 966.83 59.70 967.75 61.10 C968.67 62.50 968.59 62.18 969.30 64.00 C970.01 65.82 971.13 68.33 972.00 72.00 C972.87 75.67 973.83 79.67 974.50 86.00 C975.17 92.33 975.50 97.67 976.00 110.00 C976.50 122.33 977.13 140.58 977.50 160.00 C977.87 179.42 978.08 215.42 978.20 226.50" fill="none" stroke="#0560CE" stroke-width="2.2" stroke-linejoin="round" stroke-linecap="round" />
<path d="M895.75 55.90 C898.25 55.96 906.04 56.10 910.75 56.25 C915.46 56.40 920.49 56.38 924.00 56.80 C927.51 57.22 929.20 57.93 931.80 58.75 C934.40 59.57 937.00 60.64 939.60 61.70 C942.20 62.76 945.05 63.75 947.40 65.10 C949.75 66.45 952.13 68.37 953.70 69.80 C955.27 71.23 955.88 72.13 956.80 73.70 C957.72 75.27 958.42 77.15 959.20 79.20 C959.98 81.25 960.88 84.20 961.50 86.00 C962.12 87.80 962.36 87.67 962.90 90.00 C963.44 92.33 964.02 96.00 964.75 100.00 C965.48 104.00 966.61 109.33 967.25 114.00 C967.89 118.67 968.21 122.00 968.60 128.00 C968.99 134.00 969.30 133.58 969.60 150.00 C969.90 166.42 970.27 213.75 970.40 226.50" fill="none" stroke="#0560CE" stroke-width="2.2" stroke-linejoin="round" stroke-linecap="round" />
<path d="M890.50 96.80 C893.25 96.65 901.75 96.18 907.00 95.90 C912.25 95.62 917.62 95.48 922.00 95.10 C926.38 94.72 929.50 94.00 933.25 93.60 C937.00 93.20 941.38 92.70 944.50 92.70 C947.62 92.70 949.82 92.98 952.00 93.60 C954.18 94.22 956.03 95.15 957.60 96.40 C959.17 97.65 960.30 99.07 961.40 101.10 C962.50 103.13 963.42 105.78 964.20 108.60 C964.98 111.42 965.48 114.56 966.10 118.00 C966.72 121.44 967.28 124.58 967.90 129.25 C968.52 133.92 969.38 135.88 969.80 146.00 C970.22 156.12 970.30 176.58 970.40 190.00 C970.50 203.42 970.40 220.42 970.40 226.50" fill="none" stroke="#0560CE" stroke-width="2.2" stroke-linejoin="round" stroke-linecap="round" />
<path d="M890.50 97.00 C893.25 97.22 902.38 97.87 907.00 98.30 C911.62 98.73 914.50 98.82 918.25 99.60 C922.00 100.38 926.06 101.65 929.50 103.00 C932.94 104.35 936.08 105.83 938.90 107.70 C941.72 109.58 944.22 111.60 946.40 114.25 C948.58 116.90 950.60 120.47 952.00 123.60 C953.40 126.72 953.87 129.27 954.80 133.00 C955.73 136.73 956.73 139.83 957.60 146.00 C958.47 152.17 959.35 161.83 960.00 170.00 C960.65 178.17 961.12 185.58 961.50 195.00 C961.88 204.42 962.17 221.25 962.30 226.50" fill="none" stroke="#0560CE" stroke-width="2.2" stroke-linejoin="round" stroke-linecap="round" />
<path d="M919.75 226.90 C921.52 223.08 927.52 210.61 930.40 204.00 C933.27 197.39 934.65 192.23 937.00 187.25 C939.35 182.27 942.32 177.54 944.50 174.10 C946.68 170.66 948.53 168.25 950.10 166.60 C951.67 164.95 952.80 164.35 953.90 164.20 C955.00 164.05 955.77 164.36 956.70 165.70 C957.63 167.04 958.72 169.28 959.50 172.25 C960.28 175.22 960.93 178.21 961.40 183.50 C961.87 188.79 962.15 200.58 962.30 204.00" fill="none" stroke="#0560CE" stroke-width="2.8" stroke-linejoin="round" stroke-linecap="round" />
<path d="M854.50 155.40 L854.50 153.90 L907.00 153.90 L908.90 152.60 " fill="none" stroke="#93B94D" stroke-width="2.4" stroke-linejoin="round" stroke-linecap="round" />
<path d="M908.90 152.60 C912.96 152.53 927.94 151.90 933.25 152.20 C938.56 152.50 938.56 153.25 940.75 154.40 C942.94 155.55 944.67 157.07 946.40 159.10 C948.12 161.13 949.85 163.78 951.10 166.60 C952.35 169.42 953.18 172.18 953.90 176.00 C954.62 179.82 955.15 187.25 955.40 189.50" fill="none" stroke="#93B94D" stroke-width="2.4" stroke-linejoin="round" stroke-linecap="round" />
<path d="M955.40 189.50 C955.52 186.92 955.88 179.38 956.10 174.00 C956.32 168.62 956.60 163.77 956.70 157.25 C956.80 150.73 956.61 140.82 956.70 134.90 C956.79 128.98 956.93 125.82 957.25 121.75 C957.57 117.68 957.91 114.25 958.60 110.50 C959.29 106.75 960.32 102.22 961.40 99.25 C962.48 96.28 963.92 94.11 965.10 92.70 C966.28 91.29 967.40 90.80 968.50 90.80 C969.60 90.80 970.70 91.29 971.70 92.70 C972.70 94.11 973.72 96.28 974.50 99.25 C975.28 102.22 975.83 106.12 976.40 110.50 C976.97 114.88 977.43 119.58 977.90 125.50 C978.37 131.42 978.83 137.92 979.20 146.00 C979.57 154.08 979.88 166.67 980.10 174.00 C980.32 181.33 980.43 187.33 980.50 190.00" fill="none" stroke="#93B94D" stroke-width="2.4" stroke-linejoin="round" stroke-linecap="round" />
<path d="M854.50 155.40 L854.50 157.60 L869.50 158.20 L903.25 158.20" fill="none" stroke="#93B94D" stroke-width="2.4" stroke-linejoin="round" stroke-linecap="round" />
<path d="M903.25 158.20 C905.12 158.42 911.06 158.72 914.50 159.50 C917.94 160.28 921.08 161.40 923.90 162.90 C926.72 164.40 928.90 166.00 931.40 168.50 C933.90 171.00 936.87 174.47 938.90 177.90 C940.93 181.33 942.20 184.75 943.60 189.10 C945.00 193.45 946.47 200.27 947.30 204.00 C948.13 207.73 948.13 209.17 948.60 211.50 C949.07 213.83 949.78 215.35 950.10 218.00 C950.42 220.65 950.43 225.83 950.50 227.40" fill="none" stroke="#93B94D" stroke-width="2.4" stroke-linejoin="round" stroke-linecap="round" />
<path d="M950.10 218.00 L946.00 221.00 L942.60 226.50" fill="none" stroke="#93B94D" stroke-width="2.4" stroke-linejoin="round" stroke-linecap="round" />
<line x1="826.00" y1="14.40" x2="852.90" y2="14.40" stroke="#4F81BD" stroke-width="1.3" />
<polygon points="860.60,14.40 851.90,18.30 851.90,10.50" fill="#4F81BD"/>
<line x1="870.00" y1="31.90" x2="843.00" y2="31.90" stroke="#4F81BD" stroke-width="1.3" />
<polygon points="835.30,31.90 844.00,28.00 844.00,35.80" fill="#4F81BD"/>
<line x1="870.00" y1="49.50" x2="896.05" y2="49.50" stroke="#4F81BD" stroke-width="1.3" />
<polygon points="903.75,49.50 895.05,53.40 895.05,45.60" fill="#4F81BD"/>
<line x1="913.00" y1="66.60" x2="886.20" y2="66.60" stroke="#4F81BD" stroke-width="1.3" />
<polygon points="878.50,66.60 887.20,62.70 887.20,70.50" fill="#4F81BD"/>
<line x1="892.00" y1="89.90" x2="919.00" y2="89.90" stroke="#4F81BD" stroke-width="1.3" />
<polygon points="926.70,89.90 918.00,93.80 918.00,86.00" fill="#4F81BD"/>
<line x1="930.40" y1="110.50" x2="904.40" y2="110.50" stroke="#4F81BD" stroke-width="1.3" />
<polygon points="896.70,110.50 905.40,106.60 905.40,114.40" fill="#4F81BD"/>
<line x1="869.25" y1="144.70" x2="894.00" y2="144.70" stroke="#9BBB59" stroke-width="1.9" />
<polygon points="903.50,144.70 893.00,148.40 893.00,141.00" fill="#9BBB59"/>
<line x1="912.60" y1="162.90" x2="888.40" y2="162.90" stroke="#9BBB59" stroke-width="1.9" />
<polygon points="878.90,162.90 889.40,159.20 889.40,166.60" fill="#9BBB59"/>
<line x1="912.50" y1="215.25" x2="925.81" y2="196.08" stroke="#4F81BD" stroke-width="1.3" />
<polygon points="930.20,189.75 928.44,199.12 922.04,194.67" fill="#4F81BD"/>
<rect x="801.00" y="7.00" width="218.90" height="255.90" fill="none" stroke="#404040" stroke-width="2" stroke-linejoin="round"/>
<line x1="795.00" y1="263.00" x2="801.00" y2="263.00" stroke="#111" stroke-width="1.5" />
<line x1="796.00" y1="234.45" x2="801.00" y2="234.45" stroke="#111" stroke-width="1.3" />
<line x1="796.00" y1="217.75" x2="801.00" y2="217.75" stroke="#111" stroke-width="1.3" />
<line x1="796.00" y1="205.89" x2="801.00" y2="205.89" stroke="#111" stroke-width="1.3" />
<line x1="796.00" y1="196.70" x2="801.00" y2="196.70" stroke="#111" stroke-width="1.3" />
<line x1="796.00" y1="189.19" x2="801.00" y2="189.19" stroke="#111" stroke-width="1.3" />
<line x1="796.00" y1="182.84" x2="801.00" y2="182.84" stroke="#111" stroke-width="1.3" />
<line x1="796.00" y1="177.34" x2="801.00" y2="177.34" stroke="#111" stroke-width="1.3" />
<line x1="796.00" y1="172.49" x2="801.00" y2="172.49" stroke="#111" stroke-width="1.3" />
<line x1="795.00" y1="168.15" x2="801.00" y2="168.15" stroke="#111" stroke-width="1.5" />
<line x1="796.00" y1="139.60" x2="801.00" y2="139.60" stroke="#111" stroke-width="1.3" />
<line x1="796.00" y1="122.90" x2="801.00" y2="122.90" stroke="#111" stroke-width="1.3" />
<line x1="796.00" y1="111.04" x2="801.00" y2="111.04" stroke="#111" stroke-width="1.3" />
<line x1="796.00" y1="101.85" x2="801.00" y2="101.85" stroke="#111" stroke-width="1.3" />
<line x1="796.00" y1="94.34" x2="801.00" y2="94.34" stroke="#111" stroke-width="1.3" />
<line x1="796.00" y1="87.99" x2="801.00" y2="87.99" stroke="#111" stroke-width="1.3" />
<line x1="796.00" y1="82.49" x2="801.00" y2="82.49" stroke="#111" stroke-width="1.3" />
<line x1="796.00" y1="77.64" x2="801.00" y2="77.64" stroke="#111" stroke-width="1.3" />
<line x1="795.00" y1="73.30" x2="801.00" y2="73.30" stroke="#111" stroke-width="1.5" />
<line x1="796.00" y1="44.75" x2="801.00" y2="44.75" stroke="#111" stroke-width="1.3" />
<line x1="796.00" y1="28.05" x2="801.00" y2="28.05" stroke="#111" stroke-width="1.3" />
<line x1="796.00" y1="16.19" x2="801.00" y2="16.19" stroke="#111" stroke-width="1.3" />
<line x1="796.00" y1="7.00" x2="801.00" y2="7.00" stroke="#111" stroke-width="1.3" />
<line x1="796.50" y1="7.00" x2="801.00" y2="7.00" stroke="#222" stroke-width="1.1" />
<line x1="844.78" y1="262.90" x2="844.78" y2="267.80" stroke="#111" stroke-width="1" />
<line x1="857.96" y1="262.90" x2="857.96" y2="267.80" stroke="#111" stroke-width="1" />
<line x1="865.67" y1="262.90" x2="865.67" y2="267.80" stroke="#111" stroke-width="1" />
<line x1="871.14" y1="262.90" x2="871.14" y2="267.80" stroke="#111" stroke-width="1" />
<line x1="875.38" y1="262.90" x2="875.38" y2="267.80" stroke="#111" stroke-width="1" />
<line x1="878.85" y1="262.90" x2="878.85" y2="267.80" stroke="#111" stroke-width="1" />
<line x1="881.78" y1="262.90" x2="881.78" y2="267.80" stroke="#111" stroke-width="1" />
<line x1="884.32" y1="262.90" x2="884.32" y2="267.80" stroke="#111" stroke-width="1" />
<line x1="886.56" y1="262.90" x2="886.56" y2="267.80" stroke="#111" stroke-width="1" />
<line x1="932.34" y1="262.90" x2="932.34" y2="267.80" stroke="#111" stroke-width="1" />
<line x1="945.52" y1="262.90" x2="945.52" y2="267.80" stroke="#111" stroke-width="1" />
<line x1="953.23" y1="262.90" x2="953.23" y2="267.80" stroke="#111" stroke-width="1" />
<line x1="958.70" y1="262.90" x2="958.70" y2="267.80" stroke="#111" stroke-width="1" />
<line x1="962.94" y1="262.90" x2="962.94" y2="267.80" stroke="#111" stroke-width="1" />
<line x1="966.41" y1="262.90" x2="966.41" y2="267.80" stroke="#111" stroke-width="1" />
<line x1="969.34" y1="262.90" x2="969.34" y2="267.80" stroke="#111" stroke-width="1" />
<line x1="971.88" y1="262.90" x2="971.88" y2="267.80" stroke="#111" stroke-width="1" />
<line x1="974.12" y1="262.90" x2="974.12" y2="267.80" stroke="#111" stroke-width="1" />
<line x1="801.00" y1="262.90" x2="801.00" y2="268.70" stroke="#222" stroke-width="1.6" />
<line x1="888.56" y1="262.90" x2="888.56" y2="268.70" stroke="#222" stroke-width="1.6" />
<line x1="976.12" y1="262.90" x2="976.12" y2="268.70" stroke="#222" stroke-width="1.6" />
<line x1="1019.90" y1="262.90" x2="1019.90" y2="267.80" stroke="#333" stroke-width="1.5" />
<text transform="translate(785.80,268.35) scale(1,1.105)" font-size="17" text-anchor="end" fill="#1f1f1f" stroke="#1f1f1f" stroke-width="0.25" font-family="Liberation Sans, Arial, sans-serif" >10</text>
<text transform="translate(785.80,173.50) scale(1,1.105)" font-size="17" text-anchor="end" fill="#1f1f1f" stroke="#1f1f1f" stroke-width="0.25" font-family="Liberation Sans, Arial, sans-serif" >100</text>
<text transform="translate(785.80,78.65) scale(1,1.105)" font-size="17" text-anchor="end" fill="#1f1f1f" stroke="#1f1f1f" stroke-width="0.25" font-family="Liberation Sans, Arial, sans-serif" >1000</text>
<text transform="translate(801.00,288.75) scale(1,1.105)" font-size="17" text-anchor="middle" fill="#1f1f1f" stroke="#1f1f1f" stroke-width="0.25" font-family="Liberation Sans, Arial, sans-serif" >0.001</text>
<text transform="translate(888.56,288.75) scale(1,1.105)" font-size="17" text-anchor="middle" fill="#1f1f1f" stroke="#1f1f1f" stroke-width="0.25" font-family="Liberation Sans, Arial, sans-serif" >0.1</text>
<text transform="translate(976.12,288.75) scale(1,1.105)" font-size="17" text-anchor="middle" fill="#1f1f1f" stroke="#1f1f1f" stroke-width="0.25" font-family="Liberation Sans, Arial, sans-serif" >10</text>
<text x="895.50" y="303.80" font-size="17" text-anchor="middle" font-weight="bold" fill="#000" font-family="Liberation Sans, Arial, sans-serif" >r (nm)</text>
<text transform="translate(744.5,141) rotate(-90)" font-size="17" text-anchor="middle" font-weight="bold" fill="#000" font-family="Liberation Sans, Arial, sans-serif">W<tspan font-size="12.5" dy="3.5">rec</tspan><tspan dy="-3.5"> (eV)</tspan></text>
<text x="747.60" y="29.20" font-size="23.3" text-anchor="start" font-weight="normal" fill="#111" font-family="Liberation Sans, Arial, sans-serif" letter-spacing="-0.4" stroke="#111" stroke-width="0.3">(c)</text>
<text x="808.00" y="47.00" font-size="14.5" text-anchor="start" font-weight="normal" fill="#111" font-family="Liberation Sans, Arial, sans-serif" >3</text>
<text x="861.00" y="65.00" font-size="14.5" text-anchor="start" font-weight="normal" fill="#111" font-family="Liberation Sans, Arial, sans-serif" >2</text>
<text x="879.00" y="108.60" font-size="14.5" text-anchor="start" font-weight="normal" fill="#111" font-family="Liberation Sans, Arial, sans-serif" >1</text>
<text transform="translate(844.3,185.4) rotate(73.3)" font-size="15" fill="#F59B55" stroke="#F59B55" stroke-width="0.25" font-family="Liberation Sans, Arial, sans-serif">resonance</text>
</svg>
</body></html>
